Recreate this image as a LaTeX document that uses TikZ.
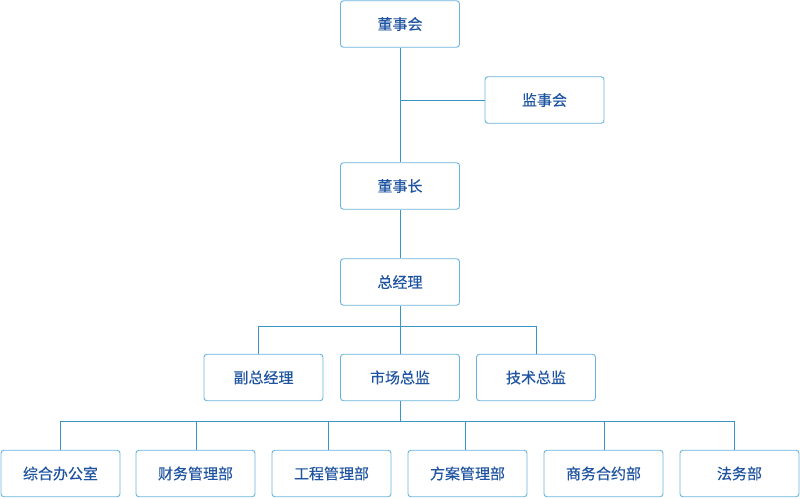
\documentclass[tikz,border=0pt]{standalone}
\usepackage{fontspec}
\newfontfamily\cjk[FakeBold=0.2]{Noto Sans CJK SC}
\definecolor{boxline}{HTML}{6AB4DE}
\definecolor{conn}{HTML}{3A94C6}
\definecolor{txt}{HTML}{1F54A0}
\begin{document}
\begin{tikzpicture}[x=1pt,y=-1pt,
  box/.style={draw=boxline,line width=0.9pt,rounded corners=3pt,minimum width=119pt,minimum height=46.5pt,inner sep=0pt,text=txt,font=\cjk\fontsize{15}{17}\selectfont,fill=white},
  conline/.style={draw=conn,line width=0.9pt}]
\useasboundingbox (0,0) rectangle (800,498);
\node[box] (dsh) at (400,24) {董事会};
\node[box] (jsh) at (544.5,100) {监事会};
\node[box] (dsz) at (400,186) {董事长};
\node[box] (zjl) at (400,282) {总经理};
\node[box] (fz) at (263.5,377.5) {副总经理};
\node[box] (sc) at (400,377.5) {市场总监};
\node[box] (js) at (536,377.5) {技术总监};
\node[box] (zh) at (60.5,473.5) {综合办公室};
\node[box] (cw) at (195.5,473.5) {财务管理部};
\node[box] (gc) at (331.5,473.5) {工程管理部};
\node[box] (fa) at (467.5,473.5) {方案管理部};
\node[box] (sw) at (603.5,473.5) {商务合约部};
\node[box] (fw) at (739.5,473.5) {法务部};
% top chain
\draw[conline] (dsh.south) -- (dsz.north);
\draw[conline] (jsh.west) -- (jsh.west -| dsh.south);
\draw[conline] (dsz.south) -- (zjl.north);
% first bus
\coordinate (b1L) at (258,326);
\coordinate (b1R) at (536,326);
\draw[conline] (zjl.south) -- (zjl.south |- b1L);
\draw[conline] (b1L) -- (b1R);
\draw[conline] (b1L) -- (b1L |- fz.north);
\draw[conline] (sc.north) -- (sc.north |- b1L);
\draw[conline] (b1R) -- (b1R |- js.north);
% second bus
\coordinate (b2a) at (60,421);
\coordinate (b2b) at (196,421);
\coordinate (b2c) at (328,421);
\coordinate (b2d) at (465,421);
\coordinate (b2e) at (604,421);
\coordinate (b2f) at (734,421);
\draw[conline] (sc.south) -- (sc.south |- b2a);
\draw[conline] (b2a) -- (b2f);
\draw[conline] (b2a) -- (b2a |- zh.north);
\draw[conline] (b2b) -- (b2b |- cw.north);
\draw[conline] (b2c) -- (b2c |- gc.north);
\draw[conline] (b2d) -- (b2d |- fa.north);
\draw[conline] (b2e) -- (b2e |- sw.north);
\draw[conline] (b2f) -- (b2f |- fw.north);
\end{tikzpicture}
\end{document}
